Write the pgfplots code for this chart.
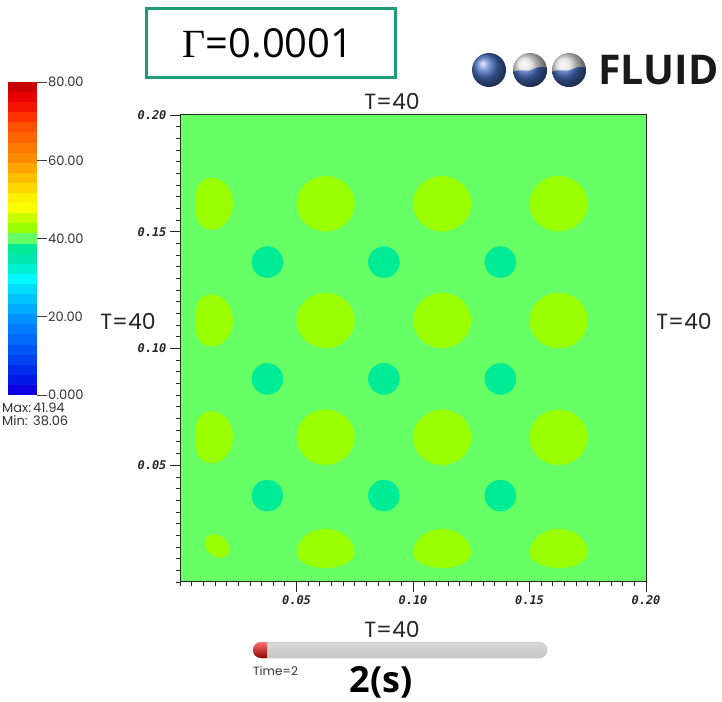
\documentclass[border=0pt]{standalone}
\usepackage{fontspec}
\usepackage{pgfplots}
\pgfplotsset{compat=1.18}
\usepackage{pgfplotstable}

\setmainfont{Poppins}
\newfontfamily\labelfont{Poppins}
\newfontfamily\opensans{Open Sans}
\newfontfamily\tickfont{DejaVu Sans Mono}
\newfontfamily\serifgreek{Liberation Serif}

\definecolor{bgfield}{RGB}{102,255,102}
\definecolor{warmblob}{RGB}{153,255,0}
\definecolor{coolspot}{RGB}{0,235,150}
\definecolor{framegreen}{RGB}{30,155,120}
\definecolor{logoblue}{RGB}{70,110,190}

% stepped rainbow lookup table, 0 .. 80 in 31 bands
\pgfplotsset{colormap={pvjet}{
  rgb255=(15,0,225)  rgb255=(0,25,230)   rgb255=(0,45,235)   rgb255=(0,65,240)
  rgb255=(0,85,245)  rgb255=(0,105,250)  rgb255=(0,125,255)  rgb255=(0,145,255)
  rgb255=(0,170,255) rgb255=(0,195,255)  rgb255=(0,220,255)  rgb255=(0,248,255)
  rgb255=(0,240,210) rgb255=(0,232,175)  rgb255=(0,235,150)  rgb255=(102,255,102)
  rgb255=(153,255,0) rgb255=(200,255,0)  rgb255=(250,255,0)  rgb255=(255,240,0)
  rgb255=(255,215,0) rgb255=(255,190,0)  rgb255=(255,165,0)  rgb255=(255,140,0)
  rgb255=(255,120,0) rgb255=(255,100,0)  rgb255=(255,80,0)   rgb255=(255,50,0)
  rgb255=(245,20,0)  rgb255=(230,0,0)    rgb255=(200,0,0)}}

% one colour-bar band: full bar width, reaching up under the next band
\pgfdeclareplotmark{band}{%
  \pgfpathrectangle{\pgfqpoint{-14.5pt}{-\pgfplotmarksize}}{\pgfqpoint{29pt}{3\pgfplotmarksize}}%
  \pgfusepathqfill}
% warm blob whose left flank is flatter than its right one
\pgfdeclareplotmark{lobe}{%
  \pgfpathmoveto{\pgfqpoint{0pt}{\pgfplotmarksize}}%
  \pgfpathcurveto{\pgfqpoint{0.447\pgfplotmarksize}{\pgfplotmarksize}}%
                 {\pgfqpoint{0.81\pgfplotmarksize}{0.552\pgfplotmarksize}}%
                 {\pgfqpoint{0.81\pgfplotmarksize}{0pt}}%
  \pgfpathcurveto{\pgfqpoint{0.81\pgfplotmarksize}{-0.552\pgfplotmarksize}}%
                 {\pgfqpoint{0.447\pgfplotmarksize}{-\pgfplotmarksize}}%
                 {\pgfqpoint{0pt}{-\pgfplotmarksize}}%
  \pgfpathcurveto{\pgfqpoint{-0.5\pgfplotmarksize}{-\pgfplotmarksize}}%
                 {\pgfqpoint{-0.65\pgfplotmarksize}{-0.6\pgfplotmarksize}}%
                 {\pgfqpoint{-0.65\pgfplotmarksize}{0pt}}%
  \pgfpathcurveto{\pgfqpoint{-0.65\pgfplotmarksize}{0.6\pgfplotmarksize}}%
                 {\pgfqpoint{-0.5\pgfplotmarksize}{\pgfplotmarksize}}%
                 {\pgfqpoint{0pt}{\pgfplotmarksize}}%
  \pgfpathclose\pgfusepathqfill}
% warm blob resting on the lower wall: round top, flattened base
\pgfdeclareplotmark{dome}{%
  \pgfpathmoveto{\pgfqpoint{\pgfplotmarksize}{0pt}}%
  \pgfpathcurveto{\pgfqpoint{\pgfplotmarksize}{0.458\pgfplotmarksize}}%
                 {\pgfqpoint{0.552\pgfplotmarksize}{0.83\pgfplotmarksize}}%
                 {\pgfqpoint{0pt}{0.83\pgfplotmarksize}}%
  \pgfpathcurveto{\pgfqpoint{-0.552\pgfplotmarksize}{0.83\pgfplotmarksize}}%
                 {\pgfqpoint{-\pgfplotmarksize}{0.458\pgfplotmarksize}}%
                 {\pgfqpoint{-\pgfplotmarksize}{0pt}}%
  \pgfpathcurveto{\pgfqpoint{-\pgfplotmarksize}{-0.287\pgfplotmarksize}}%
                 {\pgfqpoint{-0.552\pgfplotmarksize}{-0.52\pgfplotmarksize}}%
                 {\pgfqpoint{0pt}{-0.52\pgfplotmarksize}}%
  \pgfpathcurveto{\pgfqpoint{0.552\pgfplotmarksize}{-0.52\pgfplotmarksize}}%
                 {\pgfqpoint{\pgfplotmarksize}{-0.287\pgfplotmarksize}}%
                 {\pgfqpoint{\pgfplotmarksize}{0pt}}%
  \pgfpathclose\pgfusepathqfill}

% warm (T = 41.94) and cool (T = 38.06) regions, domain in metres
\pgfplotstableread{
x      y
0.0625 0.162
0.1125 0.162
0.1625 0.162
0.0625 0.112
0.1125 0.112
0.1625 0.112
0.0625 0.062
0.1125 0.062
0.1625 0.062
}\warmblobs

\pgfplotstableread{
x      y
0.0137 0.162
0.0137 0.112
0.0137 0.062
}\wallblobs

\pgfplotstableread{
x      y
0.0625 0.01245
0.1125 0.01245
0.1625 0.01245
}\floorblobs

\pgfplotstableread{
x      y
0.0159 0.0154
}\cornerblob

\pgfplotstableread{
x      y
0.0375 0.137
0.0875 0.137
0.1375 0.137
0.0375 0.087
0.0875 0.087
0.1375 0.087
0.0375 0.037
0.0875 0.037
0.1375 0.037
}\coolspots

% colour bar: band centre (temperature) and band index
\pgfplotstableread{
T      k
1.290  0
3.871  1
6.452  2
9.032  3
11.613 4
14.194 5
16.774 6
19.355 7
21.935 8
24.516 9
27.097 10
29.677 11
32.258 12
34.839 13
37.419 14
40.000 15
42.581 16
45.161 17
47.742 18
50.323 19
52.903 20
55.484 21
58.065 22
60.645 23
63.226 24
65.806 25
68.387 26
70.968 27
73.548 28
76.129 29
78.710 30
}\colorbands

\begin{document}
\begin{tikzpicture}
% temperature field
\begin{axis}[
  at={(180pt,119pt)}, anchor=south west,
  width=466pt, height=467pt, scale only axis,
  xmin=0, xmax=0.2, ymin=0, ymax=0.2,
  axis background/.style={fill=bgfield},
  axis line style={black!85, line width=1pt},
  tick pos=left, tick align=outside,
  xtick={0.05,0.1,0.15,0.2}, xticklabels={0.05,0.10,0.15,0.20},
  ytick={0.05,0.1,0.15,0.2}, yticklabels={0.05,0.10,0.15,0.20},
  minor xtick={0,0.005,...,0.2}, minor ytick={0,0.005,...,0.2},
  major tick length=10pt, minor tick length=4pt,
  every tick/.style={black!85, line width=0.8pt},
  ticklabel style={font=\tickfont\bfseries\itshape\fontsize{12}{12}\selectfont, text=black!85},
]
\addplot[only marks, mark=*, mark size=27.5pt, mark options={xscale=1.05, fill=warmblob, draw=warmblob}]
  table[x=x, y=y] {\warmblobs};
\addplot[only marks, mark=lobe, mark size=26pt, mark options={fill=warmblob, draw=warmblob}]
  table[x=x, y=y] {\wallblobs};
\addplot[only marks, mark=dome, mark size=29pt, mark options={fill=warmblob, draw=warmblob}]
  table[x=x, y=y] {\floorblobs};
\addplot[only marks, mark=*, mark size=10pt, mark options={rotate=-40, xscale=1.35, fill=warmblob, draw=warmblob}]
  table[x=x, y=y] {\cornerblob};
\addplot[only marks, mark=*, mark size=15.5pt, mark options={fill=coolspot, draw=coolspot}]
  table[x=x, y=y] {\coolspots};
\end{axis}

% colour legend
\begin{axis}[
  at={(8pt,306pt)}, anchor=south west,
  width=29pt, height=313pt, scale only axis,
  xmin=0, xmax=1, ymin=0, ymax=80,
  axis line style={draw=none},
  xtick=\empty,
  ytick={0,20,40,60,80}, yticklabels={0.000,20.00,40.00,60.00,80.00},
  ytick pos=right, yticklabel pos=right, tick align=outside,
  major tick length=10pt,
  every tick/.style={black!75, line width=0.7pt},
  yticklabel style={font=\labelfont\fontsize{13}{13}\selectfont, text=black!80, inner sep=1pt},
  colormap name=pvjet, point meta min=0, point meta max=30,
  clip marker paths=true,
]
\addplot[scatter, only marks, mark=band, mark size=5.05pt, point meta=explicit]
  table[x expr=0.5, y=T, meta=k] {\colorbands};
\end{axis}

% boundary temperatures
\begin{scope}[every node/.style={font=\labelfont\fontsize{22}{22}\selectfont, text=black!85}]
\node at (392pt,600pt) {T=40};
\node at (392pt,72pt) {T=40};
\node at (128pt,380pt) {T=40};
\node at (684pt,380pt) {T=40};
\end{scope}

% data range read-out under the colour bar
\begin{scope}[every node/.style={font=\labelfont\fontsize{13}{13}\selectfont, text=black!80, inner sep=0pt, anchor=base west}]
\node at (2pt,288pt) {Max:};
\node at (33pt,288pt) {41.94};
\node at (2pt,275pt) {Min:};
\node at (33pt,275pt) {38.06};
\end{scope}

% diffusivity tag
\draw[framegreen, line width=3pt] (146.5pt,623.5pt) rectangle (395.5pt,692.5pt);
\node[anchor=base, inner sep=0pt, font=\fontsize{40}{40}\selectfont] at (268pt,643pt)
  {{\serifgreek Γ}{\opensans =0.0001}};

% logo
\shade[ball color=logoblue] (489pt,631pt) circle (17pt);
\foreach \cx in {530,569}{
  \begin{scope}[shift={(\cx pt,631pt)}]
    \clip (0pt,0pt) circle (17pt);
    \shade[ball color=gray!25] (0pt,0pt) circle (17pt);
    \clip (-18pt,-19pt) -- (-18pt,-2pt)
      .. controls (-8pt,2pt) and (-2pt,-3pt) .. (4pt,1pt)
      .. controls (9pt,4pt) and (13pt,3pt) .. (18pt,2pt)
      -- (18pt,-19pt) -- cycle;
    \shade[ball color=logoblue] (0pt,0pt) circle (17pt);
  \end{scope}
}
\node[anchor=base west, inner sep=0pt, font=\opensans\bfseries\fontsize{41}{41}\selectfont, text=black!90]
  at (598pt,616pt) {FLUID};

% time slider
\shadedraw[draw=gray!45, line width=0.5pt, top color=gray!30, middle color=white, bottom color=gray!45,
  rounded corners=8pt] (253pt,43pt) rectangle (547pt,59pt);
\begin{scope}
  \clip[rounded corners=8pt] (253pt,43pt) rectangle (547pt,59pt);
  \shade[top color=red!55!white, middle color=red, bottom color=red!55!black]
    (253pt,43pt) rectangle (267pt,59pt);
\end{scope}
\node[anchor=base west, inner sep=0pt, font=\labelfont\fontsize{12}{12}\selectfont, text=black!80]
  at (253pt,26pt) {Time=2};
\node[anchor=base, inner sep=0pt, font=\opensans\bfseries\fontsize{36}{36}\selectfont]
  at (381pt,9pt) {2(s)};

\pgfresetboundingbox
\path[use as bounding box] (0pt,0pt) rectangle (722pt,701pt);
\end{tikzpicture}
\end{document}
